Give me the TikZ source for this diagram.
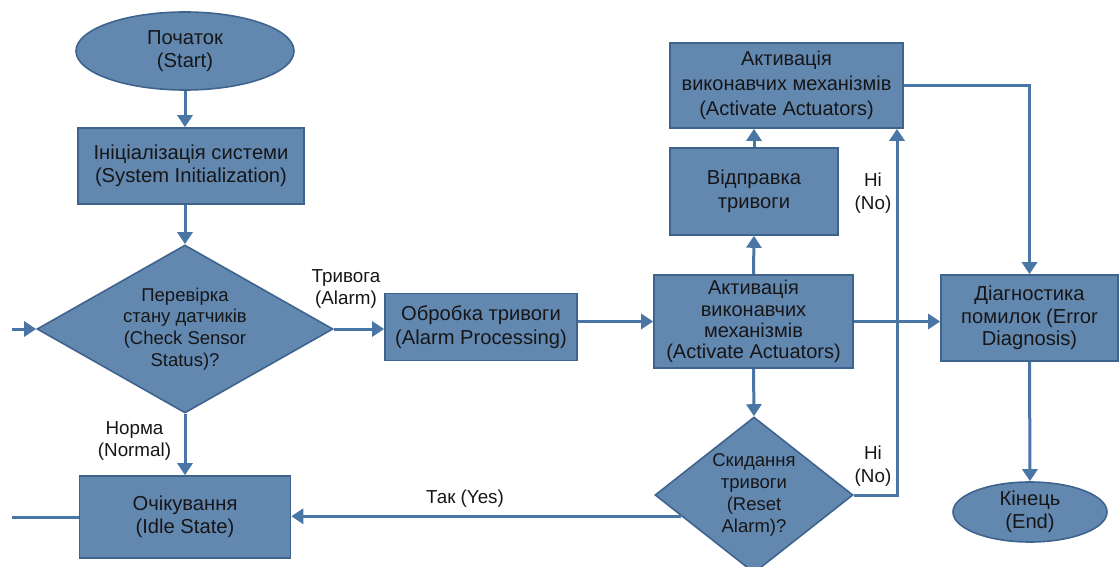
\documentclass[tikz,border=0pt]{standalone}
\usepackage{fontspec}
\setmainfont{Liberation Sans}
\usetikzlibrary{arrows.meta,shapes.geometric,calc}
\definecolor{boxfill}{RGB}{99,136,176}
\definecolor{boxedge}{RGB}{62,100,142}
\definecolor{flowline}{RGB}{74,118,166}
\definecolor{ink}{RGB}{22,22,24}
\begin{document}
\begin{tikzpicture}[x=1pt,y=-1pt,
  base/.style={draw=boxedge, line width=1.6pt, fill=boxfill, text=ink,
    align=center, inner sep=0pt, font=\fontsize{20.2}{23.5}\selectfont},
  procbox/.style={base, rectangle},
  term/.style={base, ellipse},
  decide/.style={base, diamond, font=\fontsize{18.5}{21.8}\selectfont},
  flow/.style={draw=flowline, line width=3pt, -{Triangle[width=15pt,length=12pt]}},
  plain/.style={draw=flowline, line width=3pt},
  tag/.style={text=ink, align=center, inner sep=0pt,
    font=\fontsize{18.8}{22.5}\selectfont}]
\useasboundingbox (0,0) rectangle (1119,567);
\clip (0,0) rectangle (1119,567);

% left column
\node[term, minimum width=218pt, minimum height=78pt] (start) at (185,51)
  {Початок\\(Start)};
\node[procbox, minimum width=226pt, minimum height=76pt] (init) at (191,166)
  {Ініціалізація системи\\(System Initialization)};
\node[decide, aspect=1.76, minimum width=296pt, minimum height=168pt] (check) at (185,329)
  {Перевірка\\стану датчиків\\(Check Sensor\\Status)?};
\node[procbox, minimum width=211pt, minimum height=82pt] (idle) at (185,517)
  {Очікування\\(Idle State)};
\coordinate (inL) at (12,329);
\coordinate (outL) at (12,517);

% alarm branch
\node[procbox, minimum width=192pt, minimum height=67pt] (proc) at (481,327)
  {Обробка тривоги\\(Alarm Processing)};
\node[procbox, minimum width=199pt, minimum height=93pt,
  font=\fontsize{20}{21.3}\selectfont] (act) at (753.5,321.5)
  {Активація\\виконавчих\\механізмів\\(Activate Actuators)};
\node[procbox, minimum width=168pt, minimum height=87pt] (send) at (754,191.5)
  {Відправка\\тривоги};
\node[procbox, minimum width=233pt, minimum height=85pt,
  font=\fontsize{20}{25}\selectfont] (top) at (786.5,85.5)
  {Активація\\виконавчих механізмів\\(Activate Actuators)};
\node[decide, aspect=1.27, minimum width=198pt, minimum height=156pt] (reset) at (754,495)
  {Скидання\\тривоги\\(Reset\\Alarm)?};

% right column
\node[procbox, minimum width=177pt, minimum height=86pt,
  font=\fontsize{20.2}{22.5}\selectfont] (diag) at (1029.5,318)
  {Діагностика\\помилок (Error\\Diagnosis)};
\node[term, minimum width=154pt, minimum height=60pt] (end) at (1030,512)
  {Кінець\\(End)};

% connectors
\draw[flow] (start.south) -- (start.south |- init.north);
\draw[flow] (check.north |- init.south) -- (check.north);
\draw[flow] (inL) -- (check.west);
\draw[flow] (check.south) -- (idle.north);
\draw[plain] (idle.west) -- (outL);
\draw[flow] (check.east) -- (check.east -| proc.west);
\draw[flow] (act.west -| proc.east) -- (act.west);
\draw[flow] (act.north) -- (send.south);
\draw[flow] (send.north) -- (send.north |- top.south);
\draw[flow] (top.east) -| (diag.north);
\draw[flow] (act.east) -- (act.east -| diag.west);
\draw[flow] (diag.south) -- (end.north);
\draw[flow] (act.south) -- (reset.north);
\coordinate (nobend) at (897,495);
\draw[flow] (reset.east) -- (nobend) -- (nobend |- top.south);
\coordinate (yesfrom) at ($(reset.west)!0.27!(reset.south)$);
\draw[flow] (yesfrom) -- (yesfrom -| idle.east);

% connector labels
\node[tag] (lalarm) at (346,289) {Тривога\\(Alarm)};
\node[tag] (lnormal) at (134.5,441) {Норма\\(Normal)};
\node[tag] (lyes) at (465,499) {Так (Yes)};
\node[tag] (lnoup) at (873,193) {Ні\\(No)};
\node[tag] (lnolow) at (873,466) {Ні\\(No)};
\end{tikzpicture}
\end{document}
